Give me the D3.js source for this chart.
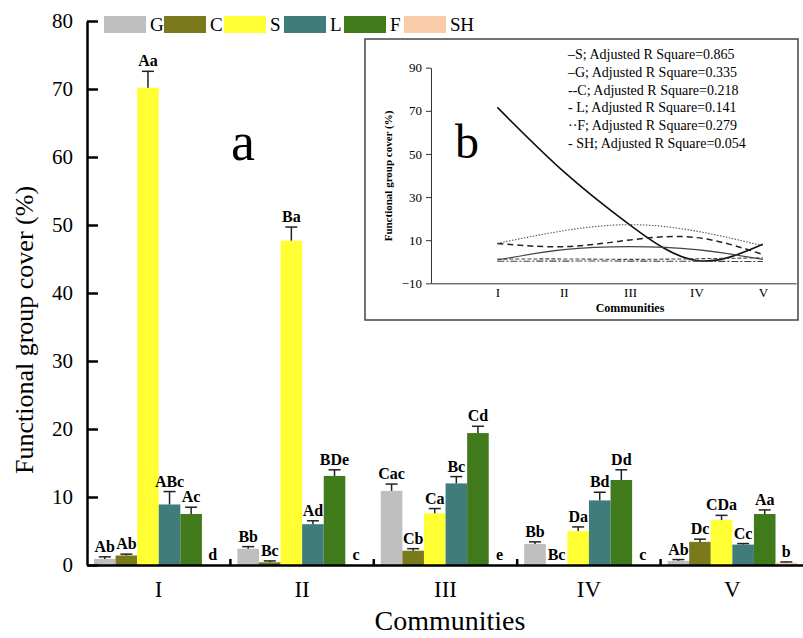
<!DOCTYPE html>
<html>
<head>
<meta charset="utf-8">
<script src="https://cdn.jsdelivr.net/npm/d3@7"></script>
<style>
  body { margin: 0; background: #fff; }
  svg { font-family: "Liberation Serif", "Times New Roman", serif; }
</style>
</head>
<body>
<svg id="chart" width="803" height="638"></svg>
<script>
// main chart data
const communities = ["I", "II", "III", "IV", "V"];
const groups = ["G", "C", "S", "L", "F", "SH"];
const colors = ["#bfbfbf", "#7a7a1c", "#ffff33", "#407c7c", "#417a1b", "#f9cba8"];

const coverG = [0.9, 2.4, 10.9, 3.1, 0.6];
const coverC = [1.4, 0.4, 2.1, 0, 3.4];
const coverS = [70.2, 47.7, 7.6, 5.0, 6.6];
const coverL = [8.9, 6.0, 12.0, 9.5, 3.0];
const coverF = [7.5, 13.1, 19.4, 12.5, 7.5];
const coverSH = [0, 0, 0, 0, 0.35];

const errG = [0.3, 0.3, 1.0, 0.3, 0.2];
const errC = [0.2, 0.2, 0.3, 0, 0.4];
const errS = [2.4, 2.0, 0.7, 0.6, 0.7];
const errL = [1.9, 0.5, 1.0, 1.2, 0.15];
const errF = [1.0, 0.9, 1.0, 1.5, 0.6];
const errSH = [0, 0, 0, 0, 0.1];

const lettersG = ["Ab", "Bb", "Cac", "Bb", "Ab"];
const lettersC = ["Ab", "Bc", "Cb", "Bc", "Dc"];
const lettersS = ["Aa", "Ba", "Ca", "Da", "CDa"];
const lettersL = ["ABc", "Ad", "Bc", "Bd", "Cc"];
const lettersF = ["Ac", "BDe", "Cd", "Dd", "Aa"];
const lettersSH = ["d", "c", "e", "c", "b"];

const yTicks = [0, 10, 20, 30, 40, 50, 60, 70, 80];

// inset (b) fitted curves, read at each community
const fitS = [71.6, 41.8, 17.0, 0.6, 8.1];
const fitG = [0.8, 5.6, 7.0, 5.6, 1.1];
const fitC = [8.5, 7.0, 10.1, 11.2, 3.4];
const fitL = [1.2, 1.3, 1.1, 1.4, 1.8];
const fitF = [8.5, 14.4, 17.2, 14.2, 7.4];
const fitSH = [0.2, 0.3, 0.3, 0.2, 0.1];
const fitLegend = [
  "\u2013S; Adjusted R Square=0.865",
  "\u2013G; Adjusted R Square=0.335",
  "--C; Adjusted R Square=0.218",
  "- L; Adjusted R Square=0.141",
  "\u00b7\u00b7F; Adjusted R Square=0.279",
  "- SH; Adjusted R Square=0.054"
];
const insetTicks = [-10, 10, 30, 50, 70, 90];

const covers = [coverG, coverC, coverS, coverL, coverF, coverSH];
const errs = [errG, errC, errS, errL, errF, errSH];
const letters = [lettersG, lettersC, lettersS, lettersL, lettersF, lettersSH];

const svg = d3.select("#chart");

const x0 = d3.scaleBand().domain(communities).range([87, 804]).padding(0);
const x1 = d3.scaleBand().domain(groups).range([7, 136.5]).padding(0);
const y = d3.scaleLinear().domain([0, 80]).range([565, 21]);

const rows = [];
communities.forEach((c, i) => {
  groups.forEach((g, j) => {
    rows.push({ c, g, j, v: covers[j][i], e: errs[j][i], t: letters[j][i] });
  });
});

// bars
svg.append("g")
  .selectAll("rect")
  .data(rows.filter(d => d.v > 0))
  .join("rect")
  .attr("x", d => x0(d.c) + x1(d.g))
  .attr("y", d => y(d.v))
  .attr("width", x1.bandwidth())
  .attr("height", d => y(0) - y(d.v))
  .attr("fill", d => colors[d.j]);

// error bars
const eb = svg.append("g").attr("stroke", "#222").attr("stroke-width", 1.5);
rows.filter(d => d.e > 0).forEach(d => {
  const cx = x0(d.c) + x1(d.g) + x1.bandwidth() / 2;
  eb.append("line").attr("x1", cx).attr("x2", cx)
    .attr("y1", y(d.v)).attr("y2", y(d.v + d.e));
  eb.append("line").attr("x1", cx - 6).attr("x2", cx + 6)
    .attr("y1", y(d.v + d.e)).attr("y2", y(d.v + d.e));
});

// significance letters
svg.append("g")
  .selectAll("text")
  .data(rows)
  .join("text")
  .attr("x", d => x0(d.c) + x1(d.g) + x1.bandwidth() / 2)
  .attr("y", d => y(d.v + d.e) - 5)
  .attr("text-anchor", "middle")
  .attr("font-weight", "bold")
  .attr("font-size", 16)
  .text(d => d.t);

// y axis
const yAxis = svg.append("g")
  .attr("transform", "translate(87,0)")
  .call(d3.axisLeft(y).tickValues(yTicks).tickSize(-11).tickPadding(14).tickSizeOuter(0));
yAxis.select(".domain").attr("stroke-width", 2.5);
yAxis.selectAll(".tick line").attr("stroke-width", 2.5);
yAxis.selectAll("text").attr("font-size", 21).attr("font-family", "Liberation Serif");

// x axis
const xAxis = svg.append("g")
  .attr("transform", "translate(0," + y(0) + ")")
  .call(d3.axisBottom(x0).tickSize(0).tickPadding(16));
xAxis.select(".domain").attr("stroke-width", 2.5);
xAxis.selectAll("text").attr("font-size", 23).attr("font-family", "Liberation Serif");
svg.append("g").selectAll("line")
  .data(communities.slice(1))
  .join("line")
  .attr("x1", d => x0(d)).attr("x2", d => x0(d))
  .attr("y1", y(0)).attr("y2", y(0) - 6)
  .attr("stroke", "#000").attr("stroke-width", 2.5);

svg.append("text")
  .attr("x", 450).attr("y", 630)
  .attr("text-anchor", "middle")
  .attr("font-size", 28)
  .text("Communities");

svg.append("text")
  .attr("transform", "translate(33,330) rotate(-90)")
  .attr("text-anchor", "middle")
  .attr("font-size", 26)
  .text("Functional group cover (%)");

svg.append("text")
  .attr("x", 231).attr("y", 160)
  .attr("font-size", 54)
  .text("a");

// legend
const legend = svg.append("g")
  .selectAll("g")
  .data(groups)
  .join("g")
  .attr("transform", (d, i) => "translate(" + (104 + i * 60) + ",16)");
legend.append("rect")
  .attr("width", 42).attr("height", 17)
  .attr("fill", (d, i) => colors[i]);
legend.append("text")
  .attr("x", 46).attr("y", 15)
  .attr("font-size", 19)
  .attr("textLength", d => d.length > 1 ? 24 : null)
  .text(d => d);

// inset b
const inset = svg.append("g");
inset.append("rect")
  .attr("x", 365).attr("y", 39)
  .attr("width", 433).attr("height", 281)
  .attr("fill", "#fff")
  .attr("stroke", "#444").attr("stroke-width", 1.5);

const ix = d3.scaleLinear().domain([0, 5.5]).range([431, 796]);
const iy = d3.scaleLinear().domain([-10, 90]).range([283.3, 67.7]);

const iyAxis = inset.append("g")
  .attr("transform", "translate(431,0)")
  .call(d3.axisLeft(iy).tickValues(insetTicks).tickSize(5).tickSizeOuter(0).tickPadding(4));
iyAxis.selectAll("text").attr("font-size", 13).attr("font-family", "Liberation Serif");
iyAxis.selectAll("line, path").attr("stroke", "#333");

const ixAxis = inset.append("g")
  .attr("transform", "translate(0," + iy(-10) + ")")
  .call(d3.axisBottom(ix).tickValues([1, 2, 3, 4, 5]).tickFormat((d, i) => communities[i]).tickSize(0).tickPadding(4).tickSizeOuter(0));
ixAxis.selectAll("text").attr("font-size", 13).attr("font-family", "Liberation Serif");
ixAxis.select(".domain").attr("stroke", "#333");

inset.append("text")
  .attr("x", 630).attr("y", 312)
  .attr("text-anchor", "middle")
  .attr("font-size", 12).attr("font-weight", "bold")
  .text("Communities");

inset.append("text")
  .attr("transform", "translate(392,176) rotate(-90)")
  .attr("text-anchor", "middle")
  .attr("font-size", 11).attr("font-weight", "bold")
  .text("Functional group cover (%)");

inset.append("text")
  .attr("x", 455).attr("y", 158)
  .attr("font-size", 48)
  .text("b");

const fits = [
  { v: fitS, w: 1.6, dash: null, c: "#111" },
  { v: fitG, w: 1.1, dash: null, c: "#444" },
  { v: fitC, w: 1.5, dash: "6,4", c: "#222" },
  { v: fitL, w: 1.1, dash: "4,2", c: "#444" },
  { v: fitF, w: 1.1, dash: "1.5,1.5", c: "#555" },
  { v: fitSH, w: 1.1, dash: "7,2,2,2", c: "#444" }
];
const line = d3.line()
  .x((d, i) => ix(i + 1))
  .y(d => iy(d))
  .curve(d3.curveNatural);
inset.append("g")
  .selectAll("path")
  .data(fits)
  .join("path")
  .attr("d", d => line(d.v))
  .attr("fill", "none")
  .attr("stroke", d => d.c)
  .attr("stroke-width", d => d.w)
  .attr("stroke-dasharray", d => d.dash);

inset.append("g")
  .selectAll("text")
  .data(fitLegend)
  .join("text")
  .attr("x", 568)
  .attr("y", (d, i) => 59 + i * 17.8)
  .attr("font-size", 14)
  .text(d => d);
</script>
</body>
</html>
